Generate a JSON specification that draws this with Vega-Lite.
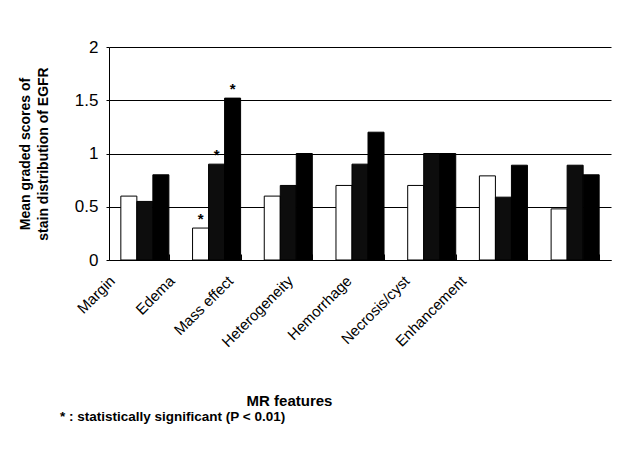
{
  "$schema": "https://vega.github.io/schema/vega-lite/v6.json",
  "width": 502,
  "height": 213,
  "autosize": {"type": "none"},
  "padding": {"left": 109, "top": 47, "right": 29, "bottom": 194},
  "background": "white",
  "config": {"font": "Liberation Sans", "view": {"stroke": null}},
  "title": {"text": "* : statistically significant (P < 0.01)", "orient": "bottom", "anchor": "start", "frame": "group", "offset": 2, "dx": -49, "fontSize": 13.5, "fontWeight": "bold", "color": "black", "font": "Liberation Sans"},
  "data": {"values": [
    {"feature": "Margin", "series": "S1", "score": 0.6, "sig": ""},
    {"feature": "Margin", "series": "S2", "score": 0.55, "sig": ""},
    {"feature": "Margin", "series": "S3", "score": 0.8, "sig": ""},
    {"feature": "Edema", "series": "S1", "score": 0.3, "sig": "*"},
    {"feature": "Edema", "series": "S2", "score": 0.9, "sig": "*"},
    {"feature": "Edema", "series": "S3", "score": 1.52, "sig": "*"},
    {"feature": "Mass effect", "series": "S1", "score": 0.6, "sig": ""},
    {"feature": "Mass effect", "series": "S2", "score": 0.7, "sig": ""},
    {"feature": "Mass effect", "series": "S3", "score": 1.0, "sig": ""},
    {"feature": "Heterogeneity", "series": "S1", "score": 0.7, "sig": ""},
    {"feature": "Heterogeneity", "series": "S2", "score": 0.9, "sig": ""},
    {"feature": "Heterogeneity", "series": "S3", "score": 1.2, "sig": ""},
    {"feature": "Hemorrhage", "series": "S1", "score": 0.7, "sig": ""},
    {"feature": "Hemorrhage", "series": "S2", "score": 1.0, "sig": ""},
    {"feature": "Hemorrhage", "series": "S3", "score": 1.0, "sig": ""},
    {"feature": "Necrosis/cyst", "series": "S1", "score": 0.79, "sig": ""},
    {"feature": "Necrosis/cyst", "series": "S2", "score": 0.59, "sig": ""},
    {"feature": "Necrosis/cyst", "series": "S3", "score": 0.89, "sig": ""},
    {"feature": "Enhancement", "series": "S1", "score": 0.48, "sig": ""},
    {"feature": "Enhancement", "series": "S2", "score": 0.89, "sig": ""},
    {"feature": "Enhancement", "series": "S3", "score": 0.8, "sig": ""}
  ]},
  "encoding": {
    "x": {
      "field": "feature", "type": "nominal", "sort": null,
      "scale": {"paddingInner": 0.33, "paddingOuter": 0.165},
      "axis": {
        "title": "MR features", "titleFontSize": 15, "titleFontWeight": "bold", "titleColor": "black",
        "titleX": 180, "titleY": 140, "titleBaseline": "middle", "titleAlign": "center",
        "labelAngle": -45, "labelAlign": "right", "labelBaseline": "middle", "labelFontSize": 15, "labelColor": "black",
        "labelPadding": 24,
        "labelOffset": {"condition": [
          {"test": "datum.value === 'Margin'", "value": -33},
          {"test": "datum.value === 'Edema'", "value": -45},
          {"test": "datum.value === 'Mass effect'", "value": -58},
          {"test": "datum.value === 'Heterogeneity'", "value": -70},
          {"test": "datum.value === 'Hemorrhage'", "value": -83},
          {"test": "datum.value === 'Necrosis/cyst'", "value": -97},
          {"test": "datum.value === 'Enhancement'", "value": -112}
        ], "value": -70},
        "ticks": true, "tickBand": "extent", "tickSize": -6, "tickWidth": 1, "tickColor": "black", "domainColor": "black", "grid": false
      }
    },
    "y": {
      "field": "score", "type": "quantitative",
      "scale": {"domain": [0, 2], "nice": false},
      "axis": {
        "title": ["Mean graded scores of", "stain distribution of EGFR"], "titleFontSize": 14, "titleFontWeight": "bold", "titleColor": "black", "titlePadding": 24, "titleLineHeight": 18,
        "values": [0, 0.5, 1, 1.5, 2], "labelExpr": "'' + datum.value", "labelFontSize": 17, "labelColor": "black", "labelPadding": 8,
        "grid": true, "gridColor": "black", "gridOpacity": 1, "domainColor": "black", "tickColor": "black", "tickSize": 3
      }
    },
    "xOffset": {"field": "series", "type": "nominal", "sort": ["S1", "S2", "S3"], "scale": {"paddingInner": 0, "paddingOuter": 0}}
  },
  "layer": [
    {
      "mark": {"type": "bar", "stroke": "black", "strokeWidth": 1},
      "encoding": {
        "fill": {"field": "series", "type": "nominal", "scale": {"domain": ["S1", "S2", "S3"], "range": ["white", "#0d0d0d", "black"]}, "legend": null}
      }
    },
    {
      "transform": [{"filter": "datum.sig === '*'"}],
      "mark": {"type": "text", "baseline": "bottom", "dy": -1, "fontSize": 15, "fontWeight": "bold", "color": "black"},
      "encoding": {"text": {"field": "sig"}}
    }
  ]
}
